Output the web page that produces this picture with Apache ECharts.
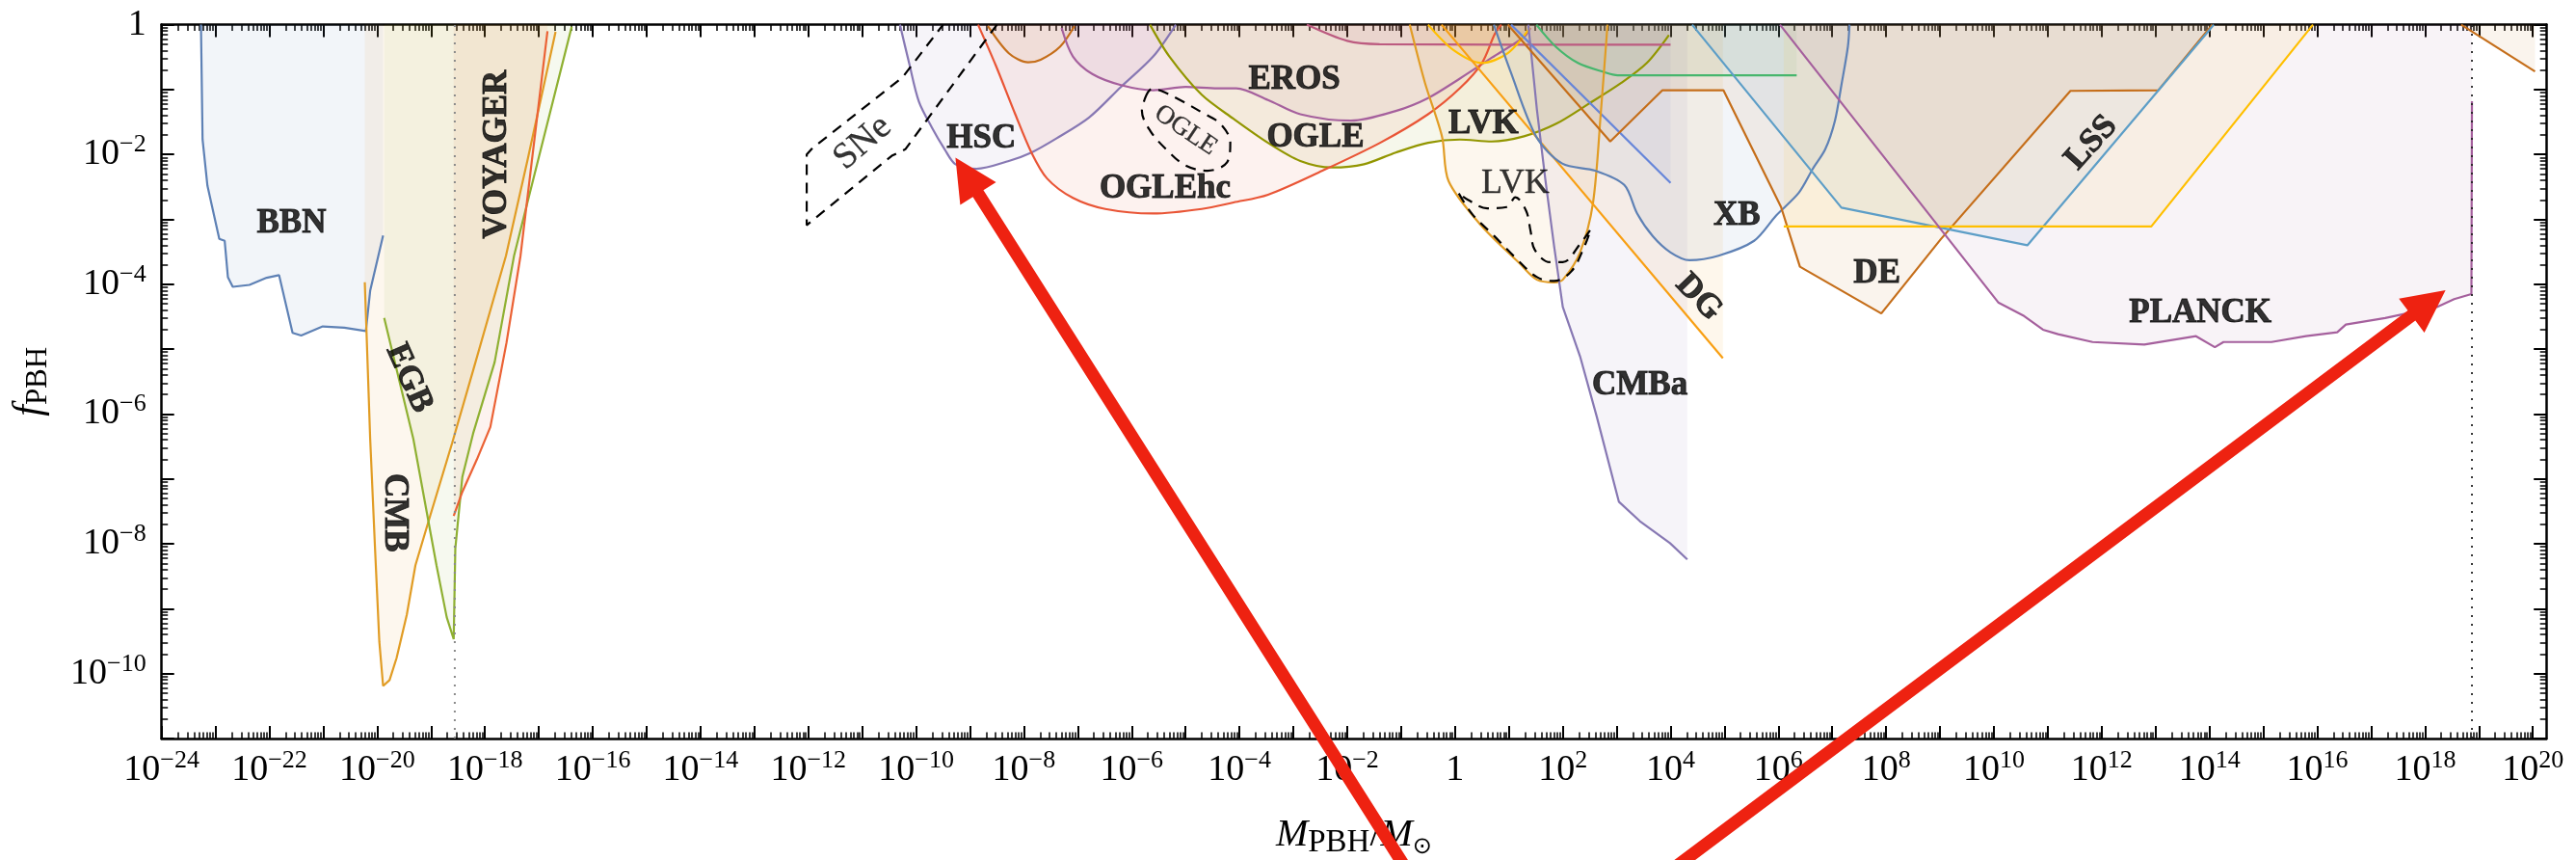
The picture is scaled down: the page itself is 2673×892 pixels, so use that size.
<!DOCTYPE html>
<html>
<head>
<meta charset="utf-8">
<script src="https://cdn.jsdelivr.net/npm/echarts@6/dist/echarts.min.js"></script>
<style>
  html, body { margin: 0; padding: 0; background: #fff; }
  #chart { width: 2673px; height: 892px; }
</style>
</head>
<body>
<div id="chart"></div>
<script>
// Every curve is a list of [log10(M_PBH / M_sun), log10(f_PBH)] points.
const bbn = [[-23.27,0],[-23.24,-1.77],[-23.15,-2.48],[-22.93,-3.30],[-22.83,-3.33],[-22.77,-3.89],[-22.68,-4.04],[-22.37,-4.01],[-22.05,-3.90],[-21.82,-3.86],[-21.57,-4.75],[-21.41,-4.79],[-21.01,-4.65],[-20.61,-4.67],[-20.21,-4.72],[-20.13,-4.10],[-19.89,-3.25]];
const cmb = [[-20.23,-3.97],[-20.20,-4.69],[-20.13,-6.38],[-20.04,-8.07],[-19.96,-9.51],[-19.89,-10.19],[-19.77,-10.10],[-19.64,-9.76],[-19.45,-9.09],[-19.29,-8.33],[-19.01,-7.55],[-18.61,-6.45],[-18.21,-5.30],[-17.90,-4.40],[-17.61,-3.56],[-17.20,-2.05],[-16.69,-0.11]];
const egb = [[-19.87,-4.52],[-19.33,-6.38],[-18.90,-8.33],[-18.71,-9.13],[-18.58,-9.47],[-18.55,-8.07],[-18.42,-6.97],[-18.22,-6.30],[-17.82,-5.20],[-17.46,-3.56],[-17.00,-2.04],[-16.39,-0.03]];
const voyager = [[-18.58,-7.57],[-18.42,-7.20],[-18.15,-6.70],[-17.90,-6.20],[-17.60,-4.90],[-17.34,-3.56],[-17.13,-2.10],[-16.84,-0.10]];
const hsc = [[-10.30,0],[-10.13,-0.59],[-9.95,-1.18],[-9.71,-1.58],[-9.47,-1.92],[-9.27,-2.15],[-8.88,-2.22],[-8.28,-2.10],[-7.86,-1.97],[-7.39,-1.75],[-6.79,-1.43],[-6.20,-0.96],[-5.60,-0.49],[-5.18,0]];
const subaruCap = [[-8.67,-0.02],[-8.28,-0.44],[-7.92,-0.58],[-7.69,-0.54],[-7.33,-0.34],[-7.06,-0.02]];
const eros = [[-7.30,-0.05],[-7.09,-0.49],[-6.73,-0.76],[-6.20,-0.93],[-5.60,-1.01],[-5.00,-0.96],[-4.41,-0.98],[-4.06,-0.98],[-3.47,-1.16],[-2.87,-1.38],[-1.93,-1.48],[-1.10,-1.33],[-0.50,-1.13],[0.09,-0.83],[0.68,-0.51],[1.28,-0.19],[1.40,-0.05]];
const ogle = [[-5.66,0],[-5.30,-0.49],[-4.70,-1.08],[-4.11,-1.45],[-3.47,-1.82],[-2.87,-2.10],[-2.28,-2.20],[-1.69,-2.15],[-1.10,-1.97],[-0.50,-1.82],[0.09,-1.77],[0.68,-1.80],[1.28,-1.72],[1.87,-1.53],[2.46,-1.23],[3.08,-0.90],[3.56,-0.59],[3.97,-0.16]];
const oglehc = [[-8.85,0],[-8.52,-0.63],[-8.16,-1.38],[-7.86,-1.97],[-7.57,-2.37],[-7.09,-2.67],[-6.49,-2.84],[-5.60,-2.91],[-4.70,-2.84],[-4.11,-2.74],[-3.47,-2.62],[-2.46,-2.25],[-1.39,-1.82],[-0.50,-1.38],[0.09,-0.98],[0.50,-0.59],[0.74,-0.14],[0.86,0]];
const microFlat = [[-2.75,0],[-2.00,-0.25],[-1.40,-0.30],[4.00,-0.31]];
const yellowCap = [[-0.50,0],[-0.03,-0.39],[0.50,-0.59],[0.98,-0.44],[1.39,-0.05]];
const greenShelf = [[1.51,0],[1.87,-0.34],[2.28,-0.59],[2.76,-0.73],[3.02,-0.78],[6.34,-0.78]];
const blueWedge = [[1.04,0],[4.00,-2.44]];
const lvk = [[-0.84,0],[-0.56,-0.89],[-0.24,-1.73],[-0.12,-2.41],[0.48,-3.09],[1.20,-3.68],[1.52,-3.93],[1.84,-3.97],[2.00,-3.93],[2.32,-3.51],[2.56,-2.75],[2.71,-1.31],[2.83,0]];
const dg = [[-0.25,0],[4.97,-5.14]];
const cmba = [[1.36,0],[1.52,-1.31],[1.68,-2.41],[1.84,-3.42],[2.00,-4.35],[2.32,-5.11],[2.63,-6.04],[3.04,-7.35],[3.43,-7.65],[3.99,-7.99],[4.31,-8.24]];
const xb = [[0.72,0],[1.03,-0.72],[1.51,-1.73],[1.99,-2.14],[2.60,-2.25],[3.14,-2.47],[3.38,-2.91],[3.67,-3.26],[4.00,-3.51],[4.35,-3.63],[4.89,-3.56],[5.55,-3.33],[5.96,-2.94],[6.38,-2.59],[6.64,-2.22],[6.87,-1.92],[7.05,-1.48],[7.17,-0.93],[7.29,-0.34],[7.32,0]];
const de = [[0.98,0],[2.88,-1.80],[3.85,-1.01],[4.98,-1.01],[6.05,-2.81],[6.40,-3.73],[7.91,-4.45],[9.01,-3.31],[11.42,-1.02],[13.05,-1.01],[14.05,0]];
const lss = [[4.40,0],[7.17,-2.82],[10.62,-3.40],[13.94,-0.14],[14.08,0]];
const yellowShelf = [[6.10,-3.11],[12.92,-3.11],[15.92,0]];
const planck = [[6.03,0],[10.08,-4.28],[10.56,-4.49],[10.91,-4.70],[11.19,-4.77],[11.83,-4.89],[12.79,-4.93],[13.75,-4.80],[14.10,-4.97],[14.26,-4.89],[15.15,-4.89],[15.79,-4.80],[16.37,-4.74],[16.53,-4.62],[17.26,-4.52],[18.22,-4.35],[18.54,-4.23],[18.86,-4.15],[18.87,-1.18]];
const heavyTail = [[18.67,0],[20.04,-0.72]];

// Dashed outlines of projected / alternative bounds
const sneOutline = [[-8.50,0],[-10.20,-1.92],[-10.45,-2.02],[-12.03,-3.09],[-12.03,-2.00],[-11.92,-1.90],[-10.25,-0.81],[-9.50,0]];
const ogleLoop = [[-5.75,-1.13],[-5.63,-0.99],[-5.45,-1.02],[-5.06,-1.18],[-4.70,-1.35],[-4.35,-1.53],[-4.17,-1.82],[-4.23,-2.12],[-4.59,-2.25],[-5.00,-2.17],[-5.36,-1.92],[-5.66,-1.63],[-5.81,-1.33],[-5.75,-1.13]];
const lvkLoop = [[0.07,-2.60],[0.32,-2.92],[0.72,-3.25],[1.12,-3.59],[1.52,-3.89],[1.84,-3.95],[2.16,-3.80],[2.40,-3.42],[2.52,-3.15],[2.32,-3.38],[2.00,-3.66],[1.76,-3.66],[1.48,-3.47],[1.40,-3.17],[1.32,-2.87],[1.12,-2.66],[0.96,-2.81],[0.60,-2.83],[0.24,-2.70],[0.07,-2.60]];

// Mass-scale markers (dotted verticals)
const evaporationMass = -18.56;
const horizonMass = 18.87;

// Arrows: [tail logM, tail logf, tip logM, tip logf]
const arrows = [[-0.86,-13.07,-9.27,-2.05],[3.945,-13.07,18.38,-4.09]];

// Region names: [text, logM, logf, rotation in degrees]
const boldLabels = [
  ['BBN',-21.59,-3.06,0],['VOYAGER',-17.78,-2.00,90],['EGB',-19.41,-5.45,-66],['CMB',-19.69,-7.52,-90],
  ['HSC',-8.79,-1.76,0],['OGLEhc',-5.38,-2.53,0],['EROS',-2.98,-0.85,0],['OGLE',-2.59,-1.74,0],
  ['LVK',0.53,-1.54,0],['CMBa',3.43,-5.56,0],['XB',5.23,-2.95,0],['DG',4.52,-4.20,-46],
  ['DE',7.83,-3.84,0],['LSS',11.81,-1.82,48],['PLANCK',13.83,-4.45,0]
];
// [text, logM, logf, rotation in degrees, font size]
const plainLabels = [['SNe',-10.99,-1.82,41,38],['OGLE',-5.00,-1.63,-34,27],['LVK',1.12,-2.45,0,36]];

// Axis ranges and tick exponents
const X_MIN = -24, X_MAX = 20.25, Y_MIN = -11, Y_MAX = 0;
const xLabelExps = [-24,-22,-20,-18,-16,-14,-12,-10,-8,-6,-4,-2,0,2,4,6,8,10,12,14,16,18,20];
const yLabelExps = [-10,-8,-6,-4,-2,0];

function intRange(a, b) { const r = []; for (let i = a; i <= b; i++) r.push(i); return r; }
function minorValues(from, to, limit) {
  const out = [];
  for (let n = from; n <= to; n++) {
    for (let k = 2; k <= 9; k++) {
      const v = n + Math.log10(k);
      if (v < limit) out.push(+v.toFixed(5));
    }
  }
  return out;
}
const xMajor = intRange(-24, 20), xMinor = minorValues(-24, 20, X_MAX);
const yMajor = intRange(-11, 0), yMinor = minorValues(-11, -1, Y_MAX);

const SERIF = 'Liberation Serif';
const MINUS = '\u2212';
function powLabel(v) {
  const n = Math.round(v);
  if (n === 0) return '{b|1}';
  return '{b|10}{p|' + (n < 0 ? MINUS + (-n) : String(n)) + '}';
}
const tickRich = {
  b: { fontFamily: SERIF, fontSize: 38, lineHeight: 46, color: '#000' },
  p: { fontFamily: SERIF, fontSize: 26, lineHeight: 30, verticalAlign: 'top', color: '#000' }
};

function rgba(hex, a) {
  const h = hex.replace('#', '');
  const r = parseInt(h.slice(0, 2), 16), g = parseInt(h.slice(2, 4), 16), b = parseInt(h.slice(4, 6), 16);
  return 'rgba(' + r + ',' + g + ',' + b + ',' + a + ')';
}

const FILL_ALPHA = 0.11;
function region(name, pts, color, smooth) {
  return {
    name: name, type: 'line', data: pts, symbol: 'none', showSymbol: false,
    smooth: smooth ? 0.3 : false, silent: true, z: 2,
    lineStyle: { color: color, width: 2.2 },
    areaStyle: { origin: 'end', color: rgba(color, FILL_ALPHA) }
  };
}
function outline(name, pts, smooth) {
  return {
    name: name, type: 'line', data: pts, symbol: 'none', showSymbol: false,
    smooth: smooth ? 0.35 : false, silent: true, z: 4,
    lineStyle: { color: '#000', width: 2.2, type: [11, 8] }
  };
}
function marker(name, x, color, width) {
  return {
    name: name, type: 'line', data: [[x, Y_MIN], [x, Y_MAX]], symbol: 'none', silent: true, z: 3,
    lineStyle: { color: color, width: width, type: [2, 7] }
  };
}
function nameLayer(name, items, baseLabel) {
  return {
    name: name, type: 'scatter', symbol: 'circle', symbolSize: 1, silent: true, z: 6,
    itemStyle: { color: 'rgba(0,0,0,0)' },
    data: items,
    label: Object.assign({
      show: true, position: 'inside', formatter: '{b}', color: '#000', fontFamily: SERIF,
      textBorderColor: '#000'
    }, baseLabel)
  };
}

const series = [
  region('BBN', bbn, '#5E81B5'),
  region('CMB', cmb, '#E19C24'),
  region('EGB', egb, '#8FB032'),
  region('VOYAGER', voyager, '#EB6235'),
  region('HSC', hsc, '#8778B3', true),
  region('HSC-cap', subaruCap, '#C56E1A', true),
  region('EROS', eros, '#A5609D', true),
  region('OGLE', ogle, '#929600', true),
  region('OGLEhc', oglehc, '#E95536', true),
  region('micro', microFlat, '#BC5B80', true),
  region('yellow-cap', yellowCap, '#FFBF00', true),
  region('green-shelf', greenShelf, '#47B66D', true),
  region('blue-wedge', blueWedge, '#6685D9'),
  region('LVK', lvk, '#E19C24', true),
  region('DG', dg, '#F89F13'),
  region('CMBa', cmba, '#8778B3'),
  region('XB', xb, '#5E81B5', true),
  region('DE', de, '#C56E1A'),
  region('LSS', lss, '#5D9EC7'),
  region('yellow-shelf', yellowShelf, '#FFBF00'),
  region('PLANCK', planck, '#A5609D'),
  region('heavy-tail', heavyTail, '#C56E1A'),
  outline('SNe', sneOutline, false),
  outline('OGLE-proj', ogleLoop, true),
  outline('LVK-proj', lvkLoop, true),
  marker('evaporation', evaporationMass, '#8a8a8a', 2),
  marker('horizon', horizonMass, '#222', 1.8),
  nameLayer('names-bold', boldLabels.map(function (d) {
    return { name: d[0], value: [d[1], d[2]], label: { rotate: d[3] } };
  }), { fontWeight: 'bold', fontSize: 35, textBorderWidth: 0.9 }),
  nameLayer('names-plain', plainLabels.map(function (d) {
    return { name: d[0], value: [d[1], d[2]], label: { rotate: d[3], fontSize: d[4] } };
  }), { fontWeight: 'normal', textBorderWidth: 0.3 }),
  {
    name: 'arrows', type: 'custom', clip: false, silent: true, z: 10,
    encode: { x: [0, 2], y: [1, 3] },
    data: arrows,
    renderItem: function (params, api) {
      const a = api.coord([api.value(0), api.value(1)]);
      const b = api.coord([api.value(2), api.value(3)]);
      const dx = b[0] - a[0], dy = b[1] - a[1], L = Math.hypot(dx, dy);
      const ux = dx / L, uy = dy / L, nx = -uy, ny = ux;
      const headLen = 44, headHalf = 22, shaftHalf = 6.5;
      const bx = b[0] - ux * headLen, by = b[1] - uy * headLen;
      return {
        type: 'polygon',
        shape: { points: [
          [a[0] + nx * shaftHalf, a[1] + ny * shaftHalf],
          [bx + nx * shaftHalf, by + ny * shaftHalf],
          [bx + nx * headHalf, by + ny * headHalf],
          [b[0], b[1]],
          [bx - nx * headHalf, by - ny * headHalf],
          [bx - nx * shaftHalf, by - ny * shaftHalf],
          [a[0] - nx * shaftHalf, a[1] - ny * shaftHalf]
        ] },
        style: { fill: '#EE2211' }
      };
    }
  }
];

const frameLine = { show: true, onZero: false, lineStyle: { color: '#000', width: 2.5 } };
const noLine = { show: false, onZero: false };
function tickSet(values, len, width) {
  return { show: true, inside: true, length: len, customValues: values, lineStyle: { color: '#000', width: width } };
}

const xAxes = [
  {
    type: 'value', min: X_MIN, max: X_MAX, position: 'bottom',
    axisLine: frameLine, axisTick: tickSet(xMajor, 13, 2), splitLine: { show: false },
    axisLabel: { show: true, customValues: xLabelExps, formatter: powLabel, margin: 10, rich: tickRich },
    name: '{i|M}{s|PBH}{n|/}{i|M}{o|\u2299}', nameLocation: 'middle', nameGap: 75,
    nameTextStyle: {
      rich: {
        i: { fontFamily: SERIF, fontStyle: 'italic', fontSize: 40, lineHeight: 50, color: '#000' },
        s: { fontFamily: SERIF, fontSize: 33, lineHeight: 36, verticalAlign: 'bottom', color: '#000' },
        n: { fontFamily: SERIF, fontSize: 40, lineHeight: 50, color: '#000' },
        o: { fontFamily: 'DejaVu Sans', fontSize: 24, lineHeight: 34, verticalAlign: 'bottom', color: '#000' }
      }
    }
  },
  { type: 'value', min: X_MIN, max: X_MAX, position: 'bottom', axisLine: noLine, axisTick: tickSet(xMinor, 6.5, 1.5), axisLabel: { show: false }, splitLine: { show: false } },
  { type: 'value', min: X_MIN, max: X_MAX, position: 'top', axisLine: frameLine, axisTick: tickSet(xMajor, 13, 2), axisLabel: { show: false }, splitLine: { show: false } },
  { type: 'value', min: X_MIN, max: X_MAX, position: 'top', axisLine: noLine, axisTick: tickSet(xMinor, 6.5, 1.5), axisLabel: { show: false }, splitLine: { show: false } }
];
const yAxes = [
  {
    type: 'value', min: Y_MIN, max: Y_MAX, position: 'left',
    axisLine: frameLine, axisTick: tickSet(yMajor, 13, 2), splitLine: { show: false },
    axisLabel: { show: true, customValues: yLabelExps, formatter: powLabel, margin: 16, rich: tickRich },
    name: '{f|f}{s|PBH}', nameLocation: 'middle', nameGap: 112,
    nameTextStyle: {
      rich: {
        f: { fontFamily: SERIF, fontStyle: 'italic', fontSize: 42, lineHeight: 50, color: '#000' },
        s: { fontFamily: SERIF, fontSize: 31, lineHeight: 34, verticalAlign: 'bottom', color: '#000' }
      }
    }
  },
  { type: 'value', min: Y_MIN, max: Y_MAX, position: 'left', axisLine: noLine, axisTick: tickSet(yMinor, 6.5, 1.5), axisLabel: { show: false }, splitLine: { show: false } },
  { type: 'value', min: Y_MIN, max: Y_MAX, position: 'right', axisLine: frameLine, axisTick: tickSet(yMajor, 13, 2), axisLabel: { show: false }, splitLine: { show: false } },
  { type: 'value', min: Y_MIN, max: Y_MAX, position: 'right', axisLine: noLine, axisTick: tickSet(yMinor, 6.5, 1.5), axisLabel: { show: false }, splitLine: { show: false } }
];

const chart = echarts.init(document.getElementById('chart'), null, { renderer: 'canvas' });
chart.setOption({
  animation: false,
  backgroundColor: '#fff',
  grid: { left: 167.7, right: 30.8, top: 25.6, bottom: 126, containLabel: false, outerBoundsMode: 'none' },
  xAxis: xAxes,
  yAxis: yAxes,
  series: series
});
</script>
</body>
</html>
